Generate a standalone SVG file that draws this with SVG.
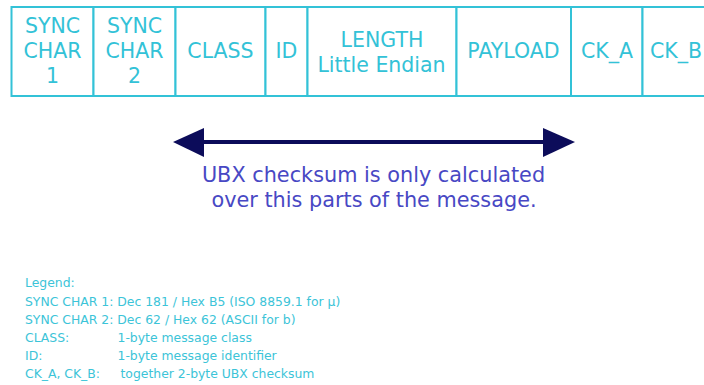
<svg xmlns="http://www.w3.org/2000/svg" width="704" height="385" viewBox="0 0 704 385">
  <style>
    .cell { fill: #ffffff; stroke: #33c2d7; stroke-width: 2; }
    .hdr { font-family: "DejaVu Sans", "Liberation Sans", sans-serif; font-size: 20.5px; fill: #33c2d7; text-anchor: middle; }
    .note { font-family: "DejaVu Sans", "Liberation Sans", sans-serif; font-size: 20.8px; fill: #4848c4; text-anchor: middle; }
    .legend { font-family: "DejaVu Sans", "Liberation Sans", sans-serif; font-size: 12.4px; fill: #3cc4d8; }
    .span { stroke: #0c0c5a; stroke-width: 4; fill: none; }
    .head { fill: #0c0c5a; }
  </style>

  <!-- UBX frame fields -->
  <g id="sync1">
    <rect class="cell" x="11.5" y="7" width="82" height="89"/>
    <text class="hdr" x="52.5" y="33">SYNC</text>
    <text class="hdr" x="52.5" y="58">CHAR</text>
    <text class="hdr" x="52.5" y="83">1</text>
  </g>
  <g id="sync2">
    <rect class="cell" x="93.5" y="7" width="82" height="89"/>
    <text class="hdr" x="134.5" y="33">SYNC</text>
    <text class="hdr" x="134.5" y="58">CHAR</text>
    <text class="hdr" x="134.5" y="83">2</text>
  </g>
  <g id="class">
    <rect class="cell" x="175.5" y="7" width="90" height="89"/>
    <text class="hdr" x="220.5" y="58">CLASS</text>
  </g>
  <g id="id">
    <rect class="cell" x="265.5" y="7" width="42" height="89"/>
    <text class="hdr" x="286.5" y="58">ID</text>
  </g>
  <g id="length">
    <rect class="cell" x="307.5" y="7" width="149" height="89"/>
    <text class="hdr" x="382" y="47">LENGTH</text>
    <text class="hdr" x="381.5" y="71.5">Little Endian</text>
  </g>
  <g id="payload">
    <rect class="cell" x="456.5" y="7" width="114.5" height="89"/>
    <text class="hdr" x="513.5" y="58">PAYLOAD</text>
  </g>
  <g id="ck_a">
    <rect class="cell" x="571" y="7" width="71.5" height="89"/>
    <text class="hdr" x="607" y="58">CK_A</text>
  </g>
  <g id="ck_b">
    <rect class="cell" x="642.5" y="7" width="80" height="89"/>
    <text class="hdr" x="650" y="58" style="text-anchor:start">CK_B</text>
  </g>

  <!-- checksum coverage span -->
  <g id="connectors">
    <line class="span" x1="200" y1="142" x2="547" y2="142"/>
    <polygon class="head" points="173,142 204,128 204,157"/>
    <polygon class="head" points="575,142 543,128 543,157"/>
  </g>

  <g id="checksum-note">
    <text class="note" x="373.5" y="182">UBX checksum is only calculated</text>
    <text class="note" x="374" y="207">over this parts of the message.</text>
  </g>

  <!-- legend -->
  <g id="legend">
    <text class="legend" x="25" y="287">Legend:</text>
    <text class="legend" x="25" y="306">SYNC CHAR 1: Dec 181 / Hex B5 (ISO 8859.1 for µ)</text>
    <text class="legend" x="25" y="324">SYNC CHAR 2: Dec 62 / Hex 62 (ASCII for b)</text>
    <text class="legend" y="342"><tspan x="25">CLASS:</tspan><tspan x="117.5">1-byte message class</tspan></text>
    <text class="legend" y="360"><tspan x="25">ID:</tspan><tspan x="117.5">1-byte message identifier</tspan></text>
    <text class="legend" y="378"><tspan x="25">CK_A, CK_B:</tspan><tspan x="120.5">together 2-byte UBX checksum</tspan></text>
  </g>
</svg>
